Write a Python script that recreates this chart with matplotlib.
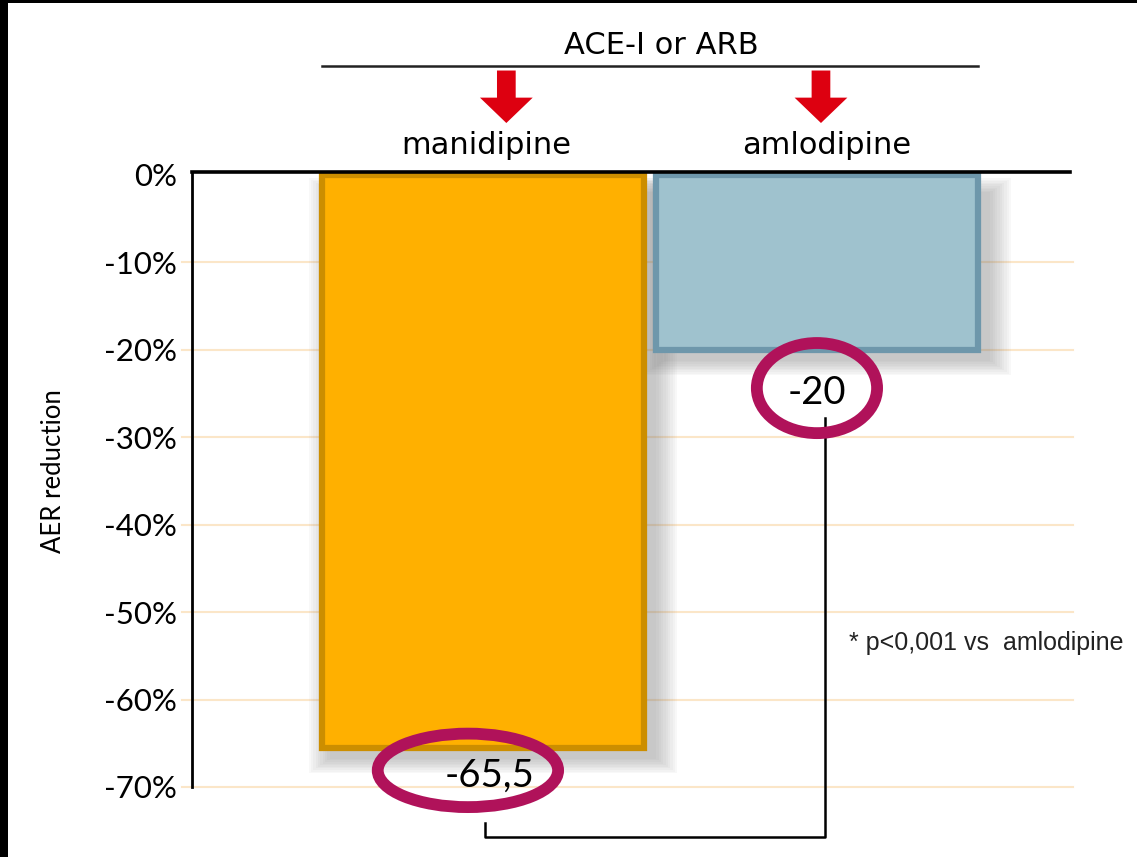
import matplotlib.pyplot as plt
from matplotlib.patches import Rectangle, Ellipse, Polygon

drugs = ['manidipine', 'amlodipine']
aer = [-65.5, -20]
labels = ['-65,5', '-20']
yticks = [0, -10, -20, -30, -40, -50, -60, -70]
ytick_labels = ['0%', '-10%', '-20%', '-30%', '-40%', '-50%', '-60%', '-70%']

fills = ['#FFB000', '#9FC2CE']
edges = ['#CC8E00', '#6E97AB']
ring = '#B0125A'
width = 0.964

fig = plt.figure(figsize=(11.37, 8.57), dpi=100)
fig.patch.set_facecolor('white')
ax = fig.add_axes([0.1689, 0.0817, 0.772, 0.7176])
ax.set_xlim(-0.871, 1.757)
ax.set_ylim(-70, 0.3)

x = list(range(len(drugs)))

# grid lines (slightly beyond the axis on both sides)
for t in yticks[1:]:
    ax.plot([-0.9, 1.767], [t, t], color='#FBE6C8', lw=1.5, zorder=0, clip_on=False)

# soft shadows
for xi, v in zip(x, aer):
    for k in range(10):
        pad = (10 - k) * 0.007
        ax.add_patch(Rectangle((xi - width / 2 + 0.03 - pad, v - 1.1 - pad * 26),
                               width + 2 * pad, -v + 2 * pad * 26 - 1.1,
                               facecolor='#707070', edgecolor='none', alpha=0.045,
                               zorder=1, clip_on=False))

ax.bar(x, aer, width=width, color=fills, edgecolor=edges, linewidth=4.5, zorder=2,
       align='center')

for s in ['right', 'bottom']:
    ax.spines[s].set_visible(False)
ax.spines['left'].set_linewidth(2.0)
ax.spines['top'].set_linewidth(2.6)
ax.spines['top'].set_zorder(3)
ax.set_xticks([])
ax.set_yticks(yticks)
ax.set_yticklabels(ytick_labels, fontfamily='Lato', fontsize=22.5)
ax.tick_params(axis='y', length=0, pad=11)
ax.text(-0.158, 0.513, 'AER reduction', transform=ax.transAxes, rotation=90,
        ha='center', va='center', fontfamily='Lato', fontsize=18.5)

# value labels with rings
offsets = [(0.02, -2.6, 0.54, 8.4), (0.0, -4.4, 0.36, 10.3)]
for xi, v, lab, (dx, dy, ew, eh) in zip(x, aer, labels, offsets):
    ax.text(xi + dx, v + dy - 0.6, lab, ha='center', va='center', fontsize=27.5,
            fontfamily='Lato', zorder=5, clip_on=False)
    ax.add_patch(Ellipse((xi - 0.045 if xi == 0 else xi, v + dy), ew, eh, fill=False,
                         edgecolor=ring, lw=8.5, zorder=5, clip_on=False))

# significance bracket
ax.plot([0.006, 0.006, 1.024, 1.024], [-74.1, -75.7, -75.7, -27.8],
        color='black', lw=1.8, zorder=4, clip_on=False)

ax.text(1.095, -53.5, '* p<0,001 vs  amlodipine', fontfamily='Liberation Sans',
        fontsize=18, ha='left', va='center', color='#222222')

# drug names, arrows and the ACE-I or ARB header
name_dx = [0.01, 0.03]
for xi, name, ndx in zip(x, drugs, name_dx):
    ax.text(xi + ndx, 3.3, name, ha='center', va='center', fontsize=22,
            fontfamily='DejaVu Sans', clip_on=False)
    cx = xi + 0.07 if xi == 0 else xi + 0.012
    arrow = [(cx - 0.028, 11.9), (cx + 0.028, 11.9), (cx + 0.028, 8.8), (cx + 0.079, 8.8),
             (cx, 5.9), (cx - 0.079, 8.8), (cx - 0.028, 8.8)]
    ax.add_patch(Polygon(arrow, closed=True, facecolor='#DD0010', edgecolor='none',
                         clip_on=False))

ax.plot([x[0] - width / 2, x[1] + width / 2], [12.45, 12.45], color='#222222', lw=1.8,
        clip_on=False)
ax.text(0.535, 14.8, 'ACE-I or ARB', ha='center', va='center', fontsize=22,
        fontfamily='DejaVu Sans', clip_on=False)

# black frame on the left and top
fig.patches.append(Rectangle((0, 0), 8 / 1137, 1, transform=fig.transFigure,
                             facecolor='black', edgecolor='none'))
fig.patches.append(Rectangle((0, 1 - 3 / 857), 1, 3 / 857, transform=fig.transFigure,
                             facecolor='black', edgecolor='none'))

fig.savefig('out.png', dpi=100)
